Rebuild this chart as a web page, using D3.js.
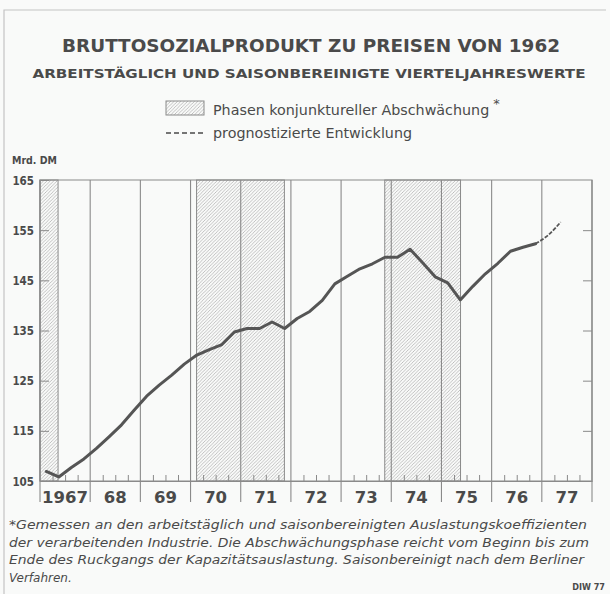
<!DOCTYPE html>
<html><head><meta charset="utf-8">
<script src="https://cdn.jsdelivr.net/npm/d3@7"></script>
<style>body{margin:0;background:#f9faf9;} svg{display:block;}</style>
</head><body>
<script>
// ---- data ----
const yearLabels = ["1967","68","69","70","71","72","73","74","75","76","77"];
const firstYear = 1967;
// quarterly values, Mrd. DM, starting 1967 Q1
const gdp = [
  106.9, 105.8, 107.7, 109.4,
  111.5, 113.8, 116.2, 119.1,
  121.9, 124.1, 126.1, 128.3,
  130.1, 131.2, 132.2, 134.7,
  135.4, 135.4, 136.7, 135.4,
  137.4, 138.8, 141.0, 144.3,
  145.8, 147.3, 148.3, 149.6,
  149.6, 151.2, 148.5, 145.7,
  144.5, 141.1, 143.8, 146.3,
  148.4, 150.8, 151.6, 152.3,
  154.0, 156.6
];
const forecastFrom = 39; // index from which the line is a projection
const phases = [[1967.0, 1967.36], [1970.12, 1971.87], [1973.87, 1975.38]];
const yTicks = [105, 115, 125, 135, 145, 155, 165];
const title = "BRUTTOSOZIALPRODUKT ZU PREISEN VON 1962";
const subtitle = "ARBEITSTÄGLICH UND SAISONBEREINIGTE VIERTELJAHRESWERTE";
const legendItems = ["Phasen konjunktureller Abschwächung", "prognostizierte Entwicklung"];
const unitLabel = "Mrd. DM";
const footnote = [
  "*Gemessen an den arbeitstäglich und saisonbereinigten Auslastungskoeffizienten",
  "der verarbeitenden Industrie. Die Abschwächungsphase reicht vom Beginn bis zum",
  "Ende des Ruckgangs der Kapazitätsauslastung. Saisonbereinigt nach dem Berliner",
  "Verfahren."
];
const source = "DIW 77";

// ---- drawing ----
const W = 610, H = 594;
const ink = "#4a4a4a", grid = "#8a8a8a";
const svg = d3.select("body").append("svg").attr("width", W).attr("height", H);
svg.append("rect").attr("width", W).attr("height", H).attr("fill", "#f9faf9");

const defs = svg.append("defs");
const pat = defs.append("pattern").attr("id", "hatch").attr("patternUnits", "userSpaceOnUse")
  .attr("width", 3.4).attr("height", 3.4);
pat.append("path").attr("d", "M-0.85,0.85 l1.7,-1.7 M0,3.4 l3.4,-3.4 M2.55,4.25 l1.7,-1.7")
  .attr("stroke", "#a8a8a8").attr("stroke-width", 0.7);

// outer frame
svg.append("path").attr("d", "M4,594 L4,10 L606,10").attr("fill", "none")
  .attr("stroke", "#c4c4c4").attr("stroke-width", 1.2);

// titles
svg.append("text").attr("x", 311).attr("y", 52).attr("text-anchor", "middle")
  .attr("font-family", "DejaVu Sans").attr("font-weight", "bold").attr("font-size", 17)
  .attr("fill", ink).attr("textLength", 498).attr("lengthAdjust", "spacingAndGlyphs").text(title);
svg.append("text").attr("x", 309).attr("y", 78).attr("text-anchor", "middle")
  .attr("font-family", "DejaVu Sans").attr("font-weight", "bold").attr("font-size", 12.5)
  .attr("fill", ink).attr("textLength", 553).attr("lengthAdjust", "spacingAndGlyphs").text(subtitle);

// legend
svg.append("rect").attr("x", 166).attr("y", 101).attr("width", 38).attr("height", 14)
  .attr("fill", "url(#hatch)").attr("stroke", grid).attr("stroke-width", 1);
const lg = svg.append("text").attr("x", 213).attr("y", 115).attr("font-family", "DejaVu Sans")
  .attr("font-size", 14.3).attr("fill", ink);
lg.append("tspan").text(legendItems[0]);
lg.append("tspan").attr("dx", 4).attr("dy", -7).attr("font-size", 13).text("*");
svg.append("line").attr("x1", 166).attr("x2", 205).attr("y1", 133).attr("y2", 133)
  .attr("stroke", ink).attr("stroke-width", 1.3).attr("stroke-dasharray", "5,3");
svg.append("text").attr("x", 213).attr("y", 138).attr("font-family", "DejaVu Sans")
  .attr("font-size", 14.3).attr("fill", ink).text(legendItems[1]);

// scales
const x = d3.scaleLinear().domain([firstYear, firstYear + yearLabels.length]).range([40, 592]);
const y = d3.scaleLinear().domain([105, 165]).range([481, 180]);
const [x0, x1] = x.range(), [yB, yT] = y.range();

// phases (hatched)
svg.append("g").selectAll("rect").data(phases).join("rect")
  .attr("x", d => x(d[0])).attr("width", d => x(d[1]) - x(d[0]))
  .attr("y", yT).attr("height", yB - yT)
  .attr("fill", "url(#hatch)").attr("stroke", grid).attr("stroke-width", 1);

// year dividers
const years = d3.range(firstYear, firstYear + yearLabels.length + 1);
svg.append("g").selectAll("line").data(years).join("line")
  .attr("x1", d => x(d)).attr("x2", d => x(d)).attr("y1", yT).attr("y2", 502)
  .attr("stroke", grid).attr("stroke-width", 1.1);

// frame of plot
svg.append("path").attr("d", `M${x0},${yB} L${x0},${yT} L${x1},${yT} L${x1},${yB} Z`)
  .attr("fill", "none").attr("stroke", grid).attr("stroke-width", 1.2);

// y axes
const yl = svg.append("g").attr("transform", `translate(${x0},0)`)
  .call(d3.axisLeft(y).tickValues(yTicks).tickSize(-9).tickSizeOuter(0).tickPadding(6));
yl.select(".domain").remove();
yl.selectAll("line").attr("stroke", grid);
yl.selectAll("text").attr("font-family", "DejaVu Sans Condensed").attr("font-weight", "bold")
  .attr("font-size", 11.5).attr("fill", ink).attr("dy", "0.35em");
const yr = svg.append("g").attr("transform", `translate(${x1},0)`)
  .call(d3.axisRight(y).tickValues(yTicks.slice(1, -1)).tickSize(-9).tickSizeOuter(0).tickFormat(""));
yr.select(".domain").remove();
yr.selectAll("line").attr("stroke", grid);

svg.append("text").attr("x", 12).attr("y", 164).attr("font-family", "DejaVu Sans Condensed")
  .attr("font-weight", "bold").attr("font-size", 10.5).attr("fill", ink).text(unitLabel);

// quarter ticks on x axis
const qTicks = d3.range(0, yearLabels.length * 4).filter(i => i % 4 !== 0).map(i => firstYear + i / 4);
const xb = svg.append("g").attr("transform", `translate(0,${yB})`)
  .call(d3.axisBottom(x).tickValues(qTicks).tickSize(-6).tickSizeOuter(0).tickFormat(""));
xb.select(".domain").attr("stroke", grid).attr("stroke-width", 1.2);
xb.selectAll("line").attr("stroke", grid);

// year labels
svg.append("g").selectAll("text").data(yearLabels).join("text")
  .attr("x", (d, i) => x(firstYear + i + 0.5)).attr("y", 503).attr("text-anchor", "middle")
  .attr("font-family", "DejaVu Sans").attr("font-weight", "bold").attr("font-size", 16.5)
  .attr("fill", ink).text(d => d);

// GDP line
const pts = gdp.map((v, i) => [firstYear + i / 4 + 0.125, v]);
const line = d3.line().x(d => x(d[0])).y(d => y(d[1]));
svg.append("path").datum(pts.slice(0, forecastFrom + 1)).attr("d", line)
  .attr("fill", "none").attr("stroke", "#555").attr("stroke-width", 3)
  .attr("stroke-linejoin", "round").attr("stroke-linecap", "round");
svg.append("path").datum(pts.slice(forecastFrom)).attr("d", line.curve(d3.curveMonotoneX))
  .attr("fill", "none").attr("stroke", "#555").attr("stroke-width", 1.8)
  .attr("stroke-dasharray", "4,1.5");

// footnote
const fnLens = [578, 580, 575, null];
svg.append("g").selectAll("text").data(footnote).join("text")
  .attr("x", 9).attr("y", (d, i) => 529 + i * 17.5)
  .attr("font-family", "DejaVu Sans").attr("font-style", "italic").attr("font-size", 12)
  .attr("fill", ink)
  .each(function (d, i) { if (fnLens[i]) d3.select(this).attr("textLength", fnLens[i]).attr("lengthAdjust", "spacingAndGlyphs"); })
  .text(d => d);
svg.append("text").attr("x", 605).attr("y", 590).attr("text-anchor", "end")
  .attr("font-family", "DejaVu Sans Condensed").attr("font-weight", "bold").attr("font-size", 9)
  .attr("fill", ink).text(source);
</script>
</body></html>
